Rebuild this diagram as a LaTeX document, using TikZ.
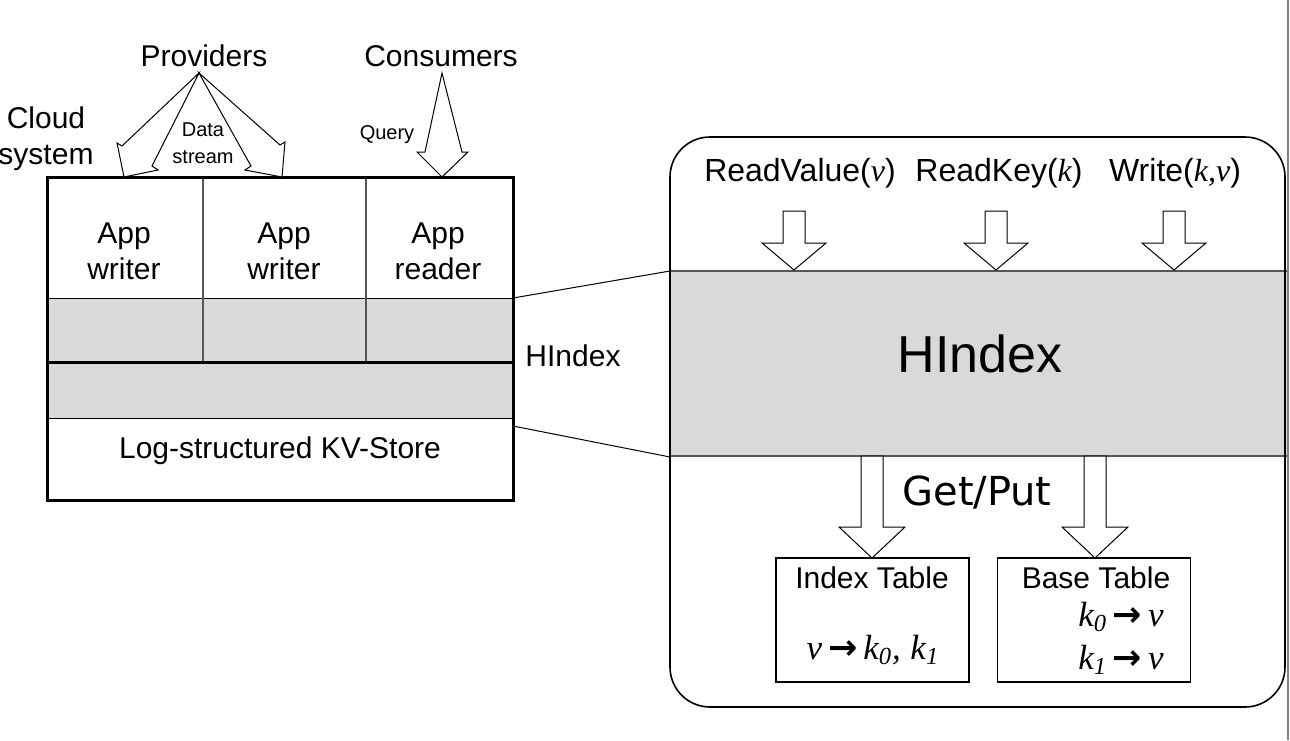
\documentclass[tikz,border=0pt]{standalone}
\usepackage{fontspec}
\setmainfont{Liberation Sans}
\newfontfamily\tmsfont{Liberation Serif}
\newfontfamily\dvfont{DejaVu Sans}
\usetikzlibrary{positioning}
\definecolor{bandgray}{HTML}{D9D9D9}
\definecolor{edgegray}{HTML}{555555}
\newcommand{\mv}[1]{{\tmsfont\itshape #1}}
\newcommand{\mk}[1]{{\tmsfont\itshape k\textsubscript{#1}}}
\newcommand{\marrow}{\,{\dvfont\bfseries →}\,}
\begin{document}
\begin{tikzpicture}[x=0.5pt,y=-0.5pt,
  lbl/.style={font=\fontsize{15}{18}\selectfont, inner sep=0pt, align=center},
  small/.style={font=\fontsize{10}{13.5}\selectfont, inner sep=0pt, align=center},
  op/.style={font=\fontsize{16}{19}\selectfont, inner sep=0pt},
  big/.style={font=\fontsize{26}{30}\selectfont, inner sep=0pt},
  getput/.style={font=\dvfont\fontsize{20}{24}\selectfont, inner sep=0pt},
  formula/.style={font=\fontsize{17.5}{21}\selectfont, inner sep=0pt},
  tablebox/.style={draw, line width=0.6pt, minimum width=96.5pt, minimum height=62pt, inner sep=0pt},
  blk/.style={draw, fill=white, line width=0.5pt, line join=miter}]
\useasboundingbox (0,0) rectangle (1290,740);
% right panel
\fill[bandgray] (670,271) rectangle (1287,456);
\draw[edgegray, line width=0.8pt] (670,271) -- (1287,271) (670,456) -- (1287,456);
\draw[line width=0.8pt, rounded corners=20pt] (670,137) rectangle (1285,707);
\draw[gray, line width=0.8pt] (1288,0) -- (1288,740);
% left panel
\fill[bandgray] (47,298) rectangle (513,418);
\draw[line width=0.5pt] (47,298) -- (513,298) (47,418) -- (513,418);
\draw[edgegray, line width=0.6pt] (203,177) -- (203,362) (366,177) -- (366,362);
\draw[line width=1.5pt] (47,362) -- (513,362);
\draw[line width=1.5pt] (47,177) rectangle (513,500);
% labels
\node[lbl] (prov) at (204,56) {Providers};
\node[lbl] (cons) at (441,56) {Consumers};
\node[lbl] (cloud) at (46,139) {Cloud\\system};
\node[small] (data) at (203,143) {Data\\stream};
\node[small] (query) at (387,135) {Query};
\node[lbl] (app1) at (124,251) {App\\writer};
\node[lbl] (app2) at (284,251) {App\\writer};
\node[lbl] (app3) at (438,251) {App\\reader};
\node[lbl] (kv) at (280,451) {Log-structured KV-Store};
\node[lbl] (hidx) at (573,356) {HIndex};
\node[big] (hbig) at (980,354) {HIndex};
\node[op] (rv) at (800,173) {ReadValue(\mv{v})};
\node[op] (rk) at (999,173) {ReadKey(\mv{k})};
\node[op] (wr) at (1175,173) {Write(\mv{k,v})};
\node[getput] (gp) at (977,493) {Get/Put};
% tables
\node[tablebox] (idx) at (872.5,620) {};
\node[tablebox] (base) at (1094,620) {};
\node[lbl] (idxT) at (872,578) {Index Table};
\node[lbl] (baseT) at (1096,578) {Base Table};
\node[formula] (idxF) at (873,650) {\mv{v}\marrow\mk{0}\mv{,} \mk{1}};
\node[formula] (baseF0) at (1121,617) {\mk{0}\marrow\mv{v}};
\node[formula] (baseF1) at (1121,660) {\mk{1}\marrow\mv{v}};
% zoom lines
\coordinate (lhx-n) at (513,298);
\coordinate (lhx-s) at (513,426);
\coordinate (rhx-n) at (670,271);
\coordinate (rhx-s) at (670,457);
\draw[line width=0.5pt] (lhx-n) -- (rhx-n) (lhx-s) -- (rhx-s);
% data stream and query arrows
\coordinate (pv) at (199,73);
\coordinate (cq) at (442,73);
\draw[blk] (pv) -- (122,146) -- (117,143) -- (124,177) -- (158,170) -- (152,166) -- cycle;
\draw[blk] (pv) -- (280,145) -- (285,142) -- (282,177) -- (245,170) -- (251,166) -- cycle;
\draw[blk] (cq) -- (462,152) -- (468,152) -- (442,177) -- (417,152) -- (425,152) -- cycle;
% operation arrows
\foreach \c in {794,996,1174}{
\draw[blk] (\c-11,211) -- (\c+11,211) -- (\c+11,243) -- (\c+32,243) -- (\c,270) -- (\c-32,243) -- (\c-11,243) -- cycle;};
\foreach \c in {872,1095}{
\draw[blk] (\c-11,456) -- (\c+11,456) -- (\c+11,527) -- (\c+33,527) -- (\c,558) -- (\c-33,527) -- (\c-11,527) -- cycle;};
\end{tikzpicture}
\end{document}
